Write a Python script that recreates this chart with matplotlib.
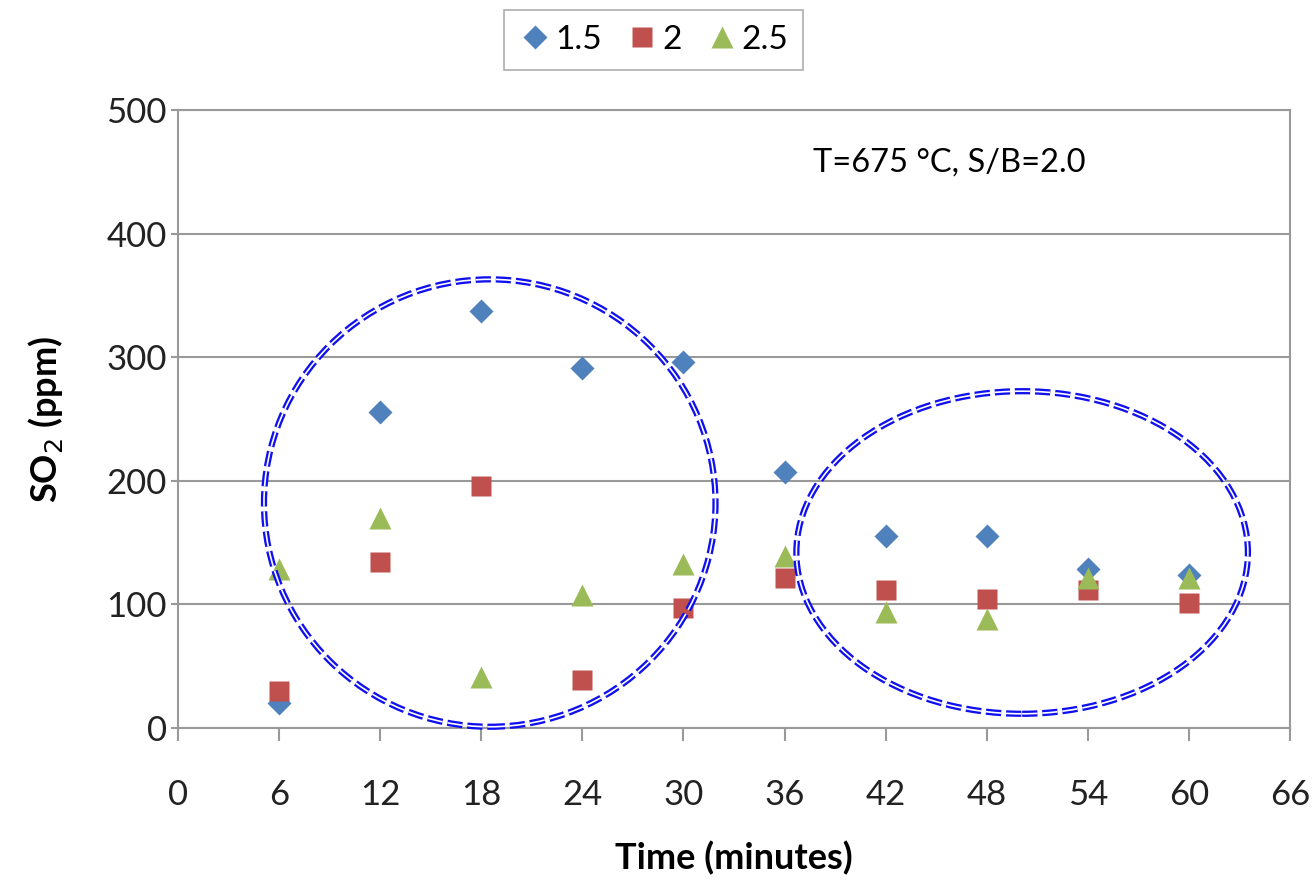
import matplotlib
matplotlib.use("Agg")
import matplotlib.pyplot as plt
from matplotlib.patches import Ellipse

plt.rcParams['font.family'] = ['Lato', 'DejaVu Sans']
plt.rcParams['lines.scale_dashes'] = False

# time in minutes
time = [6, 12, 18, 24, 30, 36, 42, 48, 54, 60]
so2_15 = [20, 256, 337, 291, 296, 207, 155, 155, 129, 124]
so2_20 = [30, 134, 196, 39, 97, 121, 112, 104, 112, 101]
so2_25 = [129, 170, 41, 108, 133, 139, 94, 88, 121, 121]

x_ticks = list(range(0, 67, 6))
y_ticks = [0, 100, 200, 300, 400, 500]

# highlighted regions: (x centre, y centre, width, height)
regions = [(18.5, 182, 26.8, 362), (50.1, 142, 26.8, 261)]

fig = plt.figure(figsize=(13.15, 8.85), dpi=100)
ax = fig.add_axes([0.1354, 0.1774, 0.981 - 0.1354, 0.8757 - 0.1774])

ax.plot(time, so2_15, 'D', color='#4F81BD', ms=12, mec='none', label='1.5')
ax.plot(time, so2_20, 's', color='#C0504D', ms=15, mec='none', label='2')
ax.plot(time, so2_25, '^', color='#9BBB59', ms=16, mec='none', label='2.5')

for cx, cy, w, h in regions:
    ax.add_patch(Ellipse((cx, cy), w, h, fill=False, ec='#1010EE', lw=4.5,
                         ls=(0, (11, 3.5)), zorder=5, clip_on=False))
    ax.add_patch(Ellipse((cx, cy), w, h, fill=False, ec='white', lw=1.2,
                         ls=(0, (11, 3.5)), zorder=6, clip_on=False))

ax.set_xlim(0, 66)
ax.set_ylim(0, 500)
ax.set_xticks(x_ticks)
ax.set_yticks(y_ticks)
ax.yaxis.grid(True, color='#999999', lw=1.5)
ax.set_axisbelow(True)
for s in ax.spines.values():
    s.set_color('#999999')
    s.set_linewidth(1.5)
ax.tick_params(axis='x', length=9, width=1.5, color='#999999', labelsize=25,
               pad=28, labelcolor='#222222')
ax.tick_params(axis='y', length=5, width=1.5, color='#999999', labelsize=25,
               pad=3, labelcolor='#222222')

ax.set_xlabel('Time (minutes)', fontsize=26, fontweight='bold', labelpad=21)
ax.set_ylabel('SO$_2$ (ppm)', fontsize=26, fontweight='bold', labelpad=30)

ax.text(0.571, 0.915, 'T=675 °C, S/B=2.0', transform=ax.transAxes,
        fontsize=23.5, va='center', ha='left')

leg = fig.legend(loc='center', bbox_to_anchor=(0.497, 0.955), ncol=3,
                 fontsize=24, frameon=True, fancybox=False, handletextpad=0.1,
                 columnspacing=0.7, handlelength=1.0, borderpad=0.45)
leg.get_frame().set_edgecolor('#999999')
leg.get_frame().set_linewidth(1.2)

fig.savefig('out.png', dpi=100)
